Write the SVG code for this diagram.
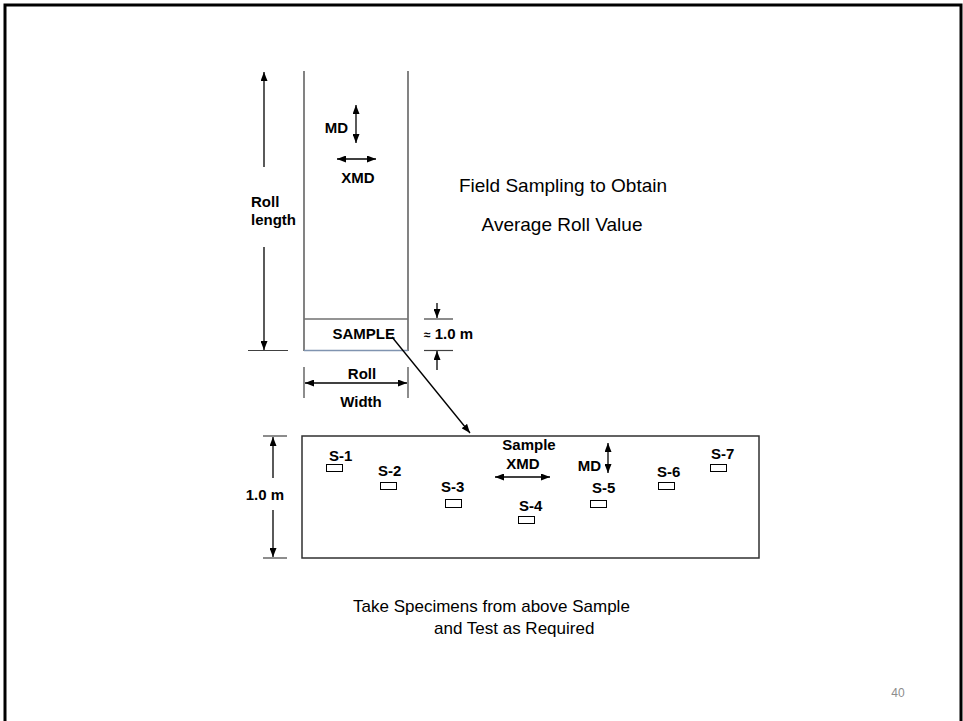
<svg xmlns="http://www.w3.org/2000/svg" width="963" height="721" viewBox="0 0 963 721">
<defs>
<marker id="ah" viewBox="0 0 10 10" refX="10" refY="5" markerWidth="9" markerHeight="7" markerUnits="userSpaceOnUse" preserveAspectRatio="none" orient="auto-start-reverse">
<path d="M0,0 L10,5 L0,10 z" fill="#000"/>
</marker>
</defs>
<style>
.lbl{font-family:"Liberation Sans",Arial,sans-serif;font-weight:bold;font-size:15px;fill:#000}
.cap{font-family:"Liberation Sans",Arial,sans-serif;fill:#000}
.ln{stroke:#404040;stroke-width:1.3;fill:none}
.ar{stroke:#000;stroke-width:1.3;fill:none}
.tk{stroke:#404040;stroke-width:1.2;fill:none}
.sp{fill:#fff;stroke:#000;stroke-width:1}
</style>
<rect width="963" height="721" fill="#fff"/>
<path d="M5,725 V5 H961 V725" fill="none" stroke="#000" stroke-width="3"/>

<g id="roll">
<line class="ln" x1="304" y1="71" x2="304" y2="351"/>
<line class="ln" x1="408" y1="71" x2="408" y2="351"/>
<line x1="304" y1="319" x2="408" y2="319" stroke="#707070" stroke-width="1.3"/>
<line x1="304" y1="350.5" x2="408" y2="350.5" stroke="#8094b0" stroke-width="1.3"/>
<text class="lbl" x="395" y="339" text-anchor="end">SAMPLE</text>
<text class="lbl" x="348" y="133" text-anchor="end">MD</text>
<text class="lbl" x="358" y="183" text-anchor="middle">XMD</text>
</g>

<g id="roll-length">
<line class="tk" x1="248" y1="350.5" x2="288" y2="350.5"/>
<text class="lbl" x="251" y="207">Roll</text>
<text class="lbl" x="251" y="225">length</text>
</g>

<g id="roll-width">
<line class="tk" x1="304" y1="367" x2="304" y2="398"/>
<line class="tk" x1="408" y1="367" x2="408" y2="398"/>
<text class="lbl" x="362" y="379" text-anchor="middle">Roll</text>
<text class="lbl" x="361" y="407" text-anchor="middle">Width</text>
</g>

<g id="sample-dim">
<line class="tk" x1="424" y1="319" x2="453" y2="319"/>
<line class="tk" x1="424" y1="350.5" x2="453" y2="350.5"/>
<text class="lbl" x="424" y="339"><tspan font-size="12px">≈</tspan> 1.0 m</text>
</g>

<g id="sample-box">
<rect x="302" y="436" width="457" height="122" fill="none" stroke="#303030" stroke-width="1.5"/>
<line class="tk" x1="263" y1="436" x2="287" y2="436"/>
<line class="tk" x1="263" y1="558" x2="287" y2="558"/>
<text class="lbl" x="284" y="500" text-anchor="end">1.0 m</text>
<text class="lbl" x="529" y="450" text-anchor="middle">Sample</text>
<text class="lbl" x="523" y="469" text-anchor="middle">XMD</text>
<text class="lbl" x="601" y="471" text-anchor="end">MD</text>
</g>

<g id="S-1"><rect class="sp" x="326.5" y="464.5" width="16" height="7"/><text class="lbl" x="329" y="461">S-1</text></g>
<g id="S-2"><rect class="sp" x="380.5" y="482.5" width="16" height="7"/><text class="lbl" x="378" y="476">S-2</text></g>
<g id="S-3"><rect class="sp" x="445.5" y="499.5" width="16" height="8"/><text class="lbl" x="441" y="492">S-3</text></g>
<g id="S-4"><rect class="sp" x="518.5" y="516.5" width="16" height="7"/><text class="lbl" x="519" y="511">S-4</text></g>
<g id="S-5"><rect class="sp" x="590.5" y="500.5" width="16" height="7"/><text class="lbl" x="592" y="493">S-5</text></g>
<g id="S-6"><rect class="sp" x="658.5" y="482.5" width="16" height="7"/><text class="lbl" x="657" y="477">S-6</text></g>
<g id="S-7"><rect class="sp" x="710.5" y="464.5" width="16" height="7"/><text class="lbl" x="711" y="459">S-7</text></g>

<g id="connectors">
<line class="ar" x1="264" y1="167" x2="264" y2="72" marker-end="url(#ah)"/>
<line class="ar" x1="264" y1="247" x2="264" y2="350" marker-end="url(#ah)"/>
<line class="ar" x1="356" y1="105" x2="356" y2="143" marker-start="url(#ah)" marker-end="url(#ah)"/>
<line class="ar" x1="337" y1="159" x2="376" y2="159" marker-start="url(#ah)" marker-end="url(#ah)"/>
<line class="ar" x1="305" y1="383" x2="407" y2="383" marker-start="url(#ah)" marker-end="url(#ah)"/>
<line class="ar" x1="437" y1="303" x2="437" y2="318" marker-end="url(#ah)"/>
<line class="ar" x1="437" y1="370" x2="437" y2="351" marker-end="url(#ah)"/>
<line class="ar" x1="392" y1="337" x2="470" y2="433" marker-end="url(#ah)"/>
<line class="ar" x1="273" y1="478" x2="273" y2="437" marker-end="url(#ah)"/>
<line class="ar" x1="273" y1="510" x2="273" y2="557" marker-end="url(#ah)"/>
<line class="ar" x1="495" y1="477" x2="550" y2="477" marker-start="url(#ah)" marker-end="url(#ah)"/>
<line class="ar" x1="608" y1="443" x2="608" y2="473" marker-start="url(#ah)" marker-end="url(#ah)"/>
</g>

<g id="captions">
<text class="cap" x="563" y="192" font-size="19px" text-anchor="middle">Field Sampling to Obtain</text>
<text class="cap" x="562" y="231" font-size="19px" text-anchor="middle">Average Roll Value</text>
<text class="cap" x="353" y="612" font-size="17px">Take Specimens from above Sample</text>
<text class="cap" x="434" y="634" font-size="17px">and Test as Required</text>
<text x="898" y="697" font-family="Liberation Sans, Arial, sans-serif" font-size="12px" fill="#8c8c8c" text-anchor="middle">40</text>
</g>
</svg>
